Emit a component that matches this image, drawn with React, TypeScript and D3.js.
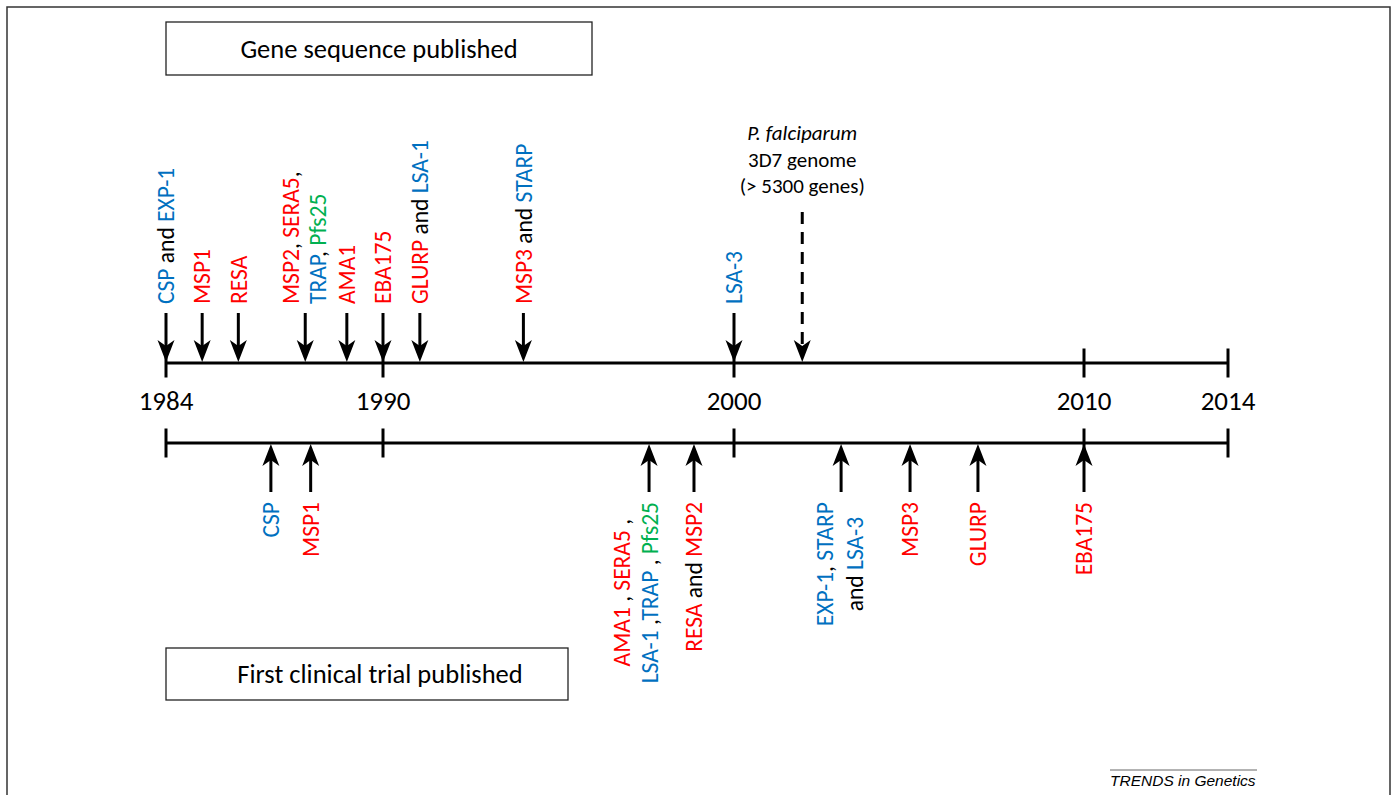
import React, { useEffect, useRef } from "react";
import * as d3 from "d3";

// ---- data ----
const AXIS_YEARS = [1984, 1990, 2000, 2010, 2014];

type Seg = [string, string]; // [text, colour key]

// Gene sequence published (top timeline)
const TOP_YEARS = [1984, 1985, 1986, 1987.85, 1989, 1990, 1991.05, 1994, 2000];
const TOP_LABELS: Seg[][][] = [
  [[["CSP", "b"], [" and ", "k"], ["EXP-1", "b"]]],
  [[["MSP1", "r"]]],
  [[["RESA", "r"]]],
  [
    [["MSP2", "r"], [", ", "k"], ["SERA5", "r"], [",", "k"]],
    [["TRAP", "b"], [", ", "k"], ["Pfs25", "g"]],
  ],
  [[["AMA1", "r"]]],
  [[["EBA175", "r"]]],
  [[["GLURP", "r"], [" and ", "k"], ["LSA-1", "b"]]],
  [[["MSP3", "r"], [" and ", "k"], ["STARP", "b"]]],
  [[["LSA-3", "b"]]],
];
const TOP_LINE_SHIFT = [[0], [0], [0], [-14, 13], [0], [0], [0], [0], [0]];

const GENOME_YEAR = 2001.95;
const GENOME_LINES = ["P. falciparum", "3D7 genome", "(> 5300 genes)"];

// First clinical trial published (bottom timeline)
const BOTTOM_YEARS = [1986.9, 1988, 1997.58, 1998.86, 2003.06, 2005.03, 2006.97, 2010];
const BOTTOM_LABELS: Seg[][][] = [
  [[["CSP", "b"]]],
  [[["MSP1", "r"]]],
  [
    [["AMA1", "r"], [" , ", "k"], ["SERA5", "r"], [" ,", "k"]],
    [["LSA-1", "b"], [" ,", "k"], ["TRAP", "b"], [" , ", "k"], ["Pfs25", "g"]],
  ],
  [[["RESA", "r"], [" and ", "k"], ["MSP2", "r"]]],
  [
    [["EXP-1", "b"], [", ", "k"], ["STARP", "b"]],
    [["and ", "k"], ["LSA-3", "b"]],
  ],
  [[["MSP3", "r"]]],
  [[["GLURP", "r"]]],
  [[["EBA175", "r"]]],
];
const BOTTOM_LINE_SHIFT = [[0], [0], [-27, 1], [0], [-16, 14], [0], [0], [0]];

const COLORS: Record<string, string> = {
  b: "#0070C0",
  r: "#FF0000",
  g: "#00B050",
  k: "#000000",
};

const FONT = "Carlito, Lato, 'Open Sans', sans-serif";

export default function App() {
  const ref = useRef<SVGSVGElement | null>(null);

  useEffect(() => {
    const svg = d3.select(ref.current);
    svg.selectAll("*").remove();

    const x = d3
      .scaleLinear()
      .domain(AXIS_YEARS)
      .range([166, 383, 734, 1084, 1228]);

    const topY = 363;
    const botY = 443;

    // outer frame
    svg
      .append("rect")
      .attr("x", 7)
      .attr("y", 7)
      .attr("width", 1383)
      .attr("height", 820)
      .attr("fill", "none")
      .attr("stroke", "#333")
      .attr("stroke-width", 1.5);

    // title boxes
    const boxes = [
      { x: 166, y: 22, w: 426, h: 53, tx: 379, t: "Gene sequence published" },
      { x: 166, y: 648, w: 402, h: 52, tx: 380, t: "First clinical trial published" },
    ];
    boxes.forEach((b) => {
      svg
        .append("rect")
        .attr("x", b.x)
        .attr("y", b.y)
        .attr("width", b.w)
        .attr("height", b.h)
        .attr("fill", "none")
        .attr("stroke", "#222")
        .attr("stroke-width", 1.3);
      svg
        .append("text")
        .attr("x", b.tx)
        .attr("y", b.y + b.h / 2)
        .attr("dy", "0.34em")
        .attr("text-anchor", "middle")
        .attr("font-family", FONT)
        .attr("font-size", 26.5)
        .attr("fill", "#000")
        .text(b.t);
    });

    // axes
    [topY, botY].forEach((yy) => {
      svg
        .append("line")
        .attr("x1", x(AXIS_YEARS[0]))
        .attr("x2", x(AXIS_YEARS[AXIS_YEARS.length - 1]))
        .attr("y1", yy)
        .attr("y2", yy)
        .attr("stroke", "#000")
        .attr("stroke-width", 3);
      AXIS_YEARS.forEach((yr) => {
        svg
          .append("line")
          .attr("x1", x(yr))
          .attr("x2", x(yr))
          .attr("y1", yy - 14.5)
          .attr("y2", yy + 14.5)
          .attr("stroke", "#000")
          .attr("stroke-width", 3);
      });
    });
    AXIS_YEARS.forEach((yr) => {
      svg
        .append("text")
        .attr("x", x(yr))
        .attr("y", 410)
        .attr("text-anchor", "middle")
        .attr("font-family", FONT)
        .attr("font-size", 27)
        .attr("fill", "#000")
        .text(String(yr));
    });

    const head = (cx: number, tipY: number, dir: number) =>
      `M${cx},${tipY} L${cx - 8.5},${tipY - dir * 22} L${cx},${tipY - dir * 16} L${cx + 8.5},${tipY - dir * 22} Z`;

    const arrow = (cx: number, fromY: number, tipY: number, dir: number, dashed = false) => {
      svg
        .append("line")
        .attr("x1", cx)
        .attr("x2", cx)
        .attr("y1", fromY)
        .attr("y2", tipY - dir * 16)
        .attr("stroke", "#000")
        .attr("stroke-width", 3)
        .attr("stroke-dasharray", dashed ? "12 8" : null);
      svg.append("path").attr("d", head(cx, tipY, dir)).attr("fill", "#000");
    };

    const addLine = (
      cx: number,
      y: number,
      segs: Seg[],
      anchor: string
    ) => {
      const t = svg
        .append("text")
        .attr("transform", `translate(${cx},${y}) rotate(-90)`)
        .attr("dy", "0.35em")
        .attr("text-anchor", anchor)
        .attr("font-family", FONT)
        .attr("font-size", 23.5)
        .style("white-space", "pre");
      segs.forEach(([s, c]) => {
        t.append("tspan").attr("fill", COLORS[c]).text(s);
      });
      return t;
    };

    // top events
    TOP_YEARS.forEach((yr, i) => {
      const cx = x(yr);
      arrow(cx, 313, topY - 1, 1);
      TOP_LABELS[i].forEach((segs, j) => {
        addLine(cx + TOP_LINE_SHIFT[i][j], 304, segs, "start");
      });
    });

    // genome dashed arrow
    const gx = x(GENOME_YEAR);
    arrow(gx, 212, topY - 1, 1, true);
    GENOME_LINES.forEach((l, j) => {
      svg
        .append("text")
        .attr("x", gx)
        .attr("y", 140 + j * 26.5)
        .attr("text-anchor", "middle")
        .attr("font-family", FONT)
        .attr("font-size", 21)
        .attr("font-style", j === 0 ? "italic" : "normal")
        .attr("fill", "#000")
        .text(l);
    });

    // bottom events
    BOTTOM_YEARS.forEach((yr, i) => {
      const cx = x(yr);
      arrow(cx, 492, botY + 1, -1);
      const texts = BOTTOM_LABELS[i].map((segs, j) =>
        addLine(cx + BOTTOM_LINE_SHIFT[i][j], 502, segs, "middle")
      );
      const lens = texts.map((t) => (t.node() as SVGTextElement).getComputedTextLength());
      const maxLen = d3.max(lens) || 0;
      texts.forEach((t, j) => {
        t.attr(
          "transform",
          `translate(${cx + BOTTOM_LINE_SHIFT[i][j]},${502 + maxLen / 2}) rotate(-90)`
        );
      });
    });

    // footer
    svg
      .append("line")
      .attr("x1", 1110)
      .attr("x2", 1257)
      .attr("y1", 770)
      .attr("y2", 770)
      .attr("stroke", "#666")
      .attr("stroke-width", 1);
    svg
      .append("text")
      .attr("x", 1110)
      .attr("y", 786)
      .attr("font-family", "'Liberation Sans', Arial, sans-serif")
      .attr("font-style", "italic")
      .attr("font-size", 15.5)
      .attr("fill", "#000")
      .text("TRENDS in Genetics");
  }, []);

  return (
    <svg
      ref={ref}
      width={1396}
      height={795}
      style={{ position: "absolute", left: 0, top: 0, background: "#fff" }}
    />
  );
}
